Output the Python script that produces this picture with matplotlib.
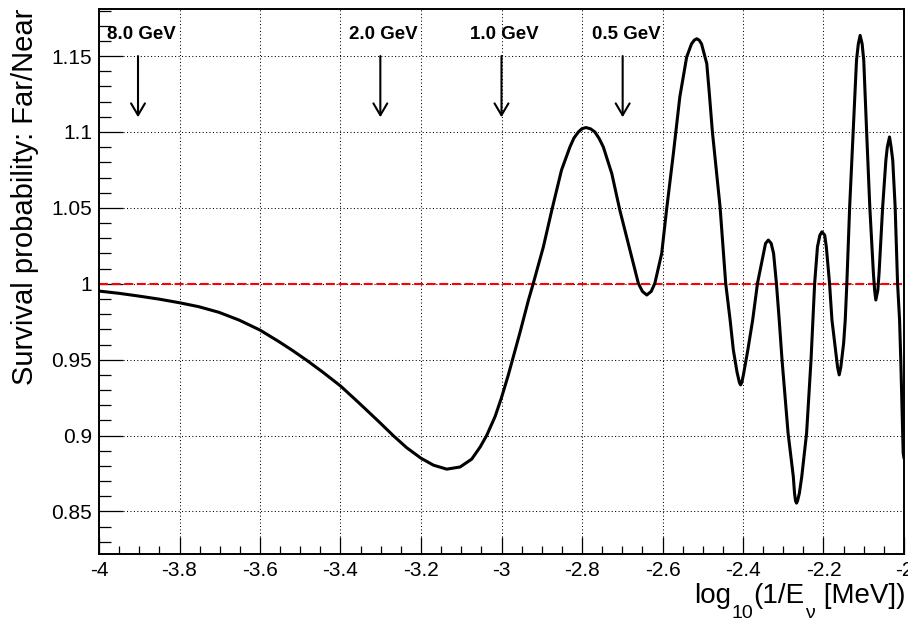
import numpy as np
import matplotlib
matplotlib.use("Agg")
import matplotlib.pyplot as plt
from matplotlib.ticker import MultipleLocator
from matplotlib.transforms import IdentityTransform

plt.rcParams["font.family"] = ["Liberation Sans", "DejaVu Sans"]

# Far/Near ratio vs log10(1/E)
log_inv_e = [
    -4.000, -3.950, -3.901, -3.851, -3.800, -3.752, -3.702, -3.652, -3.600, -3.553,
    -3.520, -3.485, -3.445, -3.400, -3.354, -3.304, -3.269, -3.2355, -3.200, -3.169,
    -3.136, -3.103, -3.074, -3.053, -3.037, -3.016, -3.000, -2.983, -2.971, -2.954,
    -2.933, -2.921, -2.896, -2.875, -2.851, -2.830, -2.820, -2.809, -2.800, -2.790,
    -2.779, -2.768, -2.757, -2.747, -2.726, -2.706, -2.681, -2.660, -2.650, -2.639,
    -2.628, -2.619, -2.602, -2.590, -2.573, -2.557, -2.540, -2.528, -2.521, -2.515,
    -2.509, -2.503, -2.490, -2.484, -2.476, -2.466, -2.457, -2.450, -2.443, -2.432,
    -2.424, -2.415, -2.409, -2.406, -2.403, -2.399, -2.388, -2.376, -2.364, -2.349,
    -2.344, -2.337, -2.330, -2.324, -2.317, -2.310, -2.303, -2.288, -2.275, -2.272,
    -2.2695, -2.267, -2.2645, -2.260, -2.254, -2.242, -2.231, -2.222, -2.215, -2.209,
    -2.204, -2.197, -2.193, -2.185, -2.179, -2.172, -2.165, -2.161, -2.157, -2.150,
    -2.146, -2.142, -2.135, -2.126, -2.118, -2.1135, -2.109, -2.104, -2.100, -2.093,
    -2.085, -2.076, -2.073, -2.070, -2.065, -2.062, -2.053, -2.045, -2.0415, -2.036,
    -2.032, -2.028, -2.022, -2.016, -2.011, -2.008, -2.002, -2.000,
]
ratio = [
    0.9952, 0.9937, 0.9919, 0.9899, 0.9875, 0.9849, 0.9812, 0.9761, 0.9695, 0.9619,
    0.9562, 0.9498, 0.9420, 0.9327, 0.9215, 0.9090, 0.9000, 0.8920, 0.8851, 0.8805,
    0.8779, 0.8793, 0.8845, 0.8925, 0.9000, 0.9125, 0.9250, 0.9400, 0.9515, 0.9680,
    0.9893, 1.0003, 1.0243, 1.0485, 1.0748, 1.0901, 1.0960, 1.1000, 1.1022, 1.1029,
    1.1021, 1.1000, 1.0955, 1.0901, 1.0726, 1.0485, 1.0222, 1.0003, 0.9950, 0.9926,
    0.9950, 1.0003, 1.0200, 1.0485, 1.0858, 1.1230, 1.1493, 1.1580, 1.1605, 1.1614,
    1.1605, 1.1580, 1.1450, 1.1265, 1.1000, 1.0740, 1.0507, 1.0250, 1.0003, 0.9761,
    0.9564, 0.9420, 0.9350, 0.9334, 0.9350, 0.9400, 0.9564, 0.9761, 1.0003, 1.0200,
    1.0266, 1.0288, 1.0266, 1.0200, 1.0003, 0.9761, 0.9498, 0.9016, 0.8730, 0.8620,
    0.8570, 0.8555, 0.8570, 0.8620, 0.8730, 0.9016, 0.9498, 1.0003, 1.0243, 1.0320,
    1.0342, 1.0320, 1.0243, 1.0003, 0.9761, 0.9608, 0.9450, 0.9400, 0.9450, 0.9608,
    0.9761, 1.0003, 1.0507, 1.1011, 1.1472, 1.1580, 1.1636, 1.1580, 1.1472, 1.1011,
    1.0507, 1.0068, 0.9958, 0.9893, 0.9958, 1.0068, 1.0507, 1.0814, 1.0900, 1.0967,
    1.0900, 1.0814, 1.0507, 1.0003, 0.9761, 0.9498, 0.8884, 0.8850,
]

# energy markers in GeV
marker_energies = [8.0, 2.0, 1.0, 0.5]
marker_labels = ["8.0 GeV", "2.0 GeV", "1.0 GeV", "0.5 GeV"]

W, H = 908, 621
fig = plt.figure(figsize=(W / 100, H / 100), dpi=100)
ax = fig.add_axes([99 / W, 1 - 554 / H, 805 / W, 545 / H])

ax.set_xlim(-4, -2)
ax.set_ylim(0.822, 1.181)

ax.grid(True, color="black", linestyle=(0, (1, 2.3)), linewidth=0.75)
ax.set_axisbelow(True)

ax.axhline(1.0, color="#ff0000", linestyle=(0, (4.3, 1.75)), linewidth=1.5, zorder=2)
ax.plot(log_inv_e, ratio, color="black", linewidth=2.2,
        solid_joinstyle="round", solid_capstyle="round", zorder=3)

for e, lab in zip(marker_energies, marker_labels):
    xpos = np.log10(1.0 / (e * 1000.0))
    ax.annotate("", xy=(xpos, 1.1097), xytext=(xpos, 1.15),
                arrowprops=dict(arrowstyle="->,head_length=0.85,head_width=0.5",
                                lw=1.5, color="black", shrinkA=0, shrinkB=0,
                                mutation_scale=10))
    ax.text(xpos + 0.008, 1.1645, lab, ha="center", va="center",
            fontsize=13.5, fontweight="bold")

ax.xaxis.set_major_locator(MultipleLocator(0.2))
ax.xaxis.set_minor_locator(MultipleLocator(0.05))
ax.yaxis.set_major_locator(MultipleLocator(0.05))
ax.yaxis.set_minor_locator(MultipleLocator(0.01))
ax.xaxis.set_major_formatter(plt.FuncFormatter(lambda v, p: f"{v:g}"))
ax.yaxis.set_major_formatter(plt.FuncFormatter(lambda v, p: f"{v:g}"))

ax.tick_params(axis="both", which="both", direction="in", width=0.9,
               top=False, right=False, labelsize=15)
ax.tick_params(axis="x", which="major", length=12, pad=5)
ax.tick_params(axis="x", which="minor", length=6)
ax.tick_params(axis="y", which="major", length=17, pad=5)
ax.tick_params(axis="y", which="minor", length=8.5)

for s in ax.spines.values():
    s.set_linewidth(1.4)

ax.set_ylabel("Survival probability: Far/Near", fontsize=21,
              loc="top", labelpad=9)

# x title built from pieces so the subscripts sit low like ROOT's
pieces = [("log", 20, 0), ("10", 14, -15), ("(1/E", 20, 0),
          ("ν", 14, -15), (" [MeV])", 20, 0)]
renderer = fig.canvas.get_renderer()
texts = []
for s, size, dy in pieces:
    t = fig.text(0, 0, s, fontsize=size, transform=IdentityTransform(),
                 ha="left", va="baseline")
    texts.append((t, dy))
widths = [t.get_window_extent(renderer).width for t, _ in texts]
xcur = 905 - sum(widths) - 2
baseline = H - 603
for (t, dy), w in zip(texts, widths):
    t.set_position((xcur, baseline + dy))
    xcur += w + 0.5

fig.savefig("out.png", dpi=100)
